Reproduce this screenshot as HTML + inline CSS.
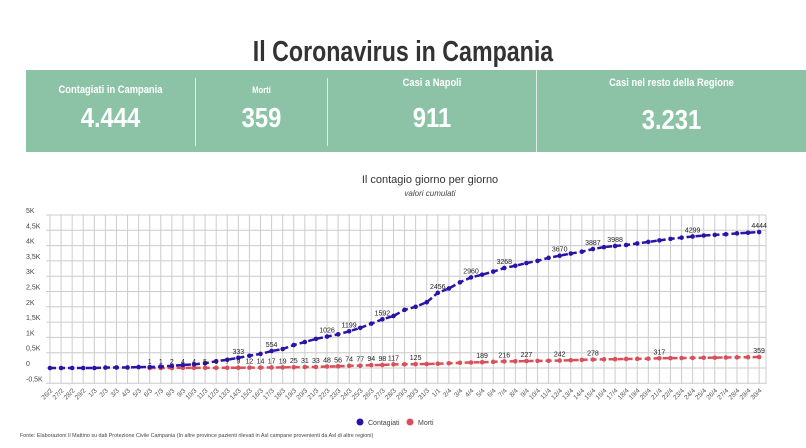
<!DOCTYPE html><html><head><meta charset="utf-8"><style>
body{margin:0;width:806px;height:448px;background:#fff;font-family:"Liberation Sans",sans-serif;overflow:hidden;position:relative}
.t{position:absolute;left:0;width:806px;text-align:center;top:36px;font-size:29px;font-weight:bold;color:#333;transform:scaleX(.8)}
.box{position:absolute;left:26px;top:70px;width:780px;height:82px;background:#8cc3a7}
.c{position:absolute;top:0;height:82px;color:#fff;text-align:center}
.c .l{position:absolute;left:0;right:0;font-size:11px;font-weight:bold;transform:scaleX(.85)}
.c .v{position:absolute;left:0;right:0;top:32px;font-size:28px;font-weight:bold;transform:scaleX(.85)}
.d{position:absolute;top:8px;width:1px;height:68px;background:#dfeee6}
</style></head><body>
<div class="t">Il Coronavirus in Campania</div>
<div class="box">
<div class="c" style="left:0;width:169px"><div class="l" style="top:14px">Contagiati in Campania</div><div class="v">4.444</div></div>
<div class="d" style="left:169px"></div>
<div class="c" style="left:170px;width:131px"><div class="l" style="font-size:9px;top:15px">Morti</div><div class="v">359</div></div>
<div class="d" style="left:301px"></div>
<div class="c" style="left:302px;width:208px"><div class="l" style="top:7px">Casi a Napoli</div><div class="v">911</div></div>
<div class="d" style="left:510px;top:0;height:82px"></div>
<div class="c" style="left:511px;width:269px"><div class="l" style="top:7px">Casi nel resto della Regione</div><div class="v" style="top:34px">3.231</div></div>
</div>
<svg id="s" width="806" height="448" style="position:absolute;left:0;top:0" font-family="Liberation Sans, sans-serif"></svg>
<script>
var s=document.getElementById('s'),h='';
h+='<text x="430" y="183" font-size="11" fill="#333" text-anchor="middle">Il contagio giorno per giorno</text>';
h+='<text x="430" y="196" font-size="8" font-style="italic" fill="#444" text-anchor="middle">valori cumulati</text>';
var x0=50,st=11.08,y0=368,k=15.3/500;
function X(i){return x0+i*st}function Y(v){return y0-v*k}
var yl=['-0,5K','0','0,5K','1K','1,5K','2K','2,5K','3K','3,5K','4K','4,5K','5K'];
for(var j=-1;j<=10;j++){var y=Y(j*500);h+='<line x1="46" x2="766" y1="'+y+'" y2="'+y+'" stroke="#ccc" stroke-width="1"/>';
h+='<text x="26" y="'+(y-2)+'" font-size="7" fill="#444">'+yl[j+1]+'</text>';}
var dates=[];for(var d=26;d<=29;d++)dates.push(d+'/2');for(d=1;d<=31;d++)dates.push(d+'/3');for(d=1;d<=30;d++)dates.push(d+'/4');
dates[35]='1/1';
for(var i=0;i<65;i++){var x=X(i);h+='<line x1="'+x+'" x2="'+x+'" y1="215" y2="384" stroke="#ccc"/>';
h+='<text transform="translate('+(x+3)+',391) rotate(-45)" font-size="6.5" fill="#555" text-anchor="end">'+dates[i]+'</text>';}
h+='<line x1="766" x2="766" y1="215" y2="384" stroke="#ccc"/>';
var b=[0,0,0,0,13,17,17,30,31,47,70,100,120,154,220,270,333,400,460,554,620,750,850,950,1026,1100,1199,1310,1450,1592,1700,1900,2000,2150,2456,2600,2800,2960,3050,3150,3268,3340,3430,3500,3600,3670,3740,3800,3887,3950,3988,4020,4070,4120,4170,4220,4260,4299,4330,4350,4370,4400,4420,4444];
b.unshift(0);
var r=[null,null,null,null,null,null,null,null,null,1,1,2,4,4,5,6,7,9,12,14,17,19,25,31,33,48,56,74,77,94,98,117,120,125,130,140,155,170,180,189,202,216,220,227,232,236,242,255,265,278,283,288,295,300,305,317,322,326,330,335,338,343,348,352,359];
function ser(a,col,lab){var p='',c='';for(var i=0;i<a.length;i++){if(a[i]==null)continue;p+=(p?'L':'M')+X(i)+','+Y(a[i]);c+='<circle cx="'+X(i)+'" cy="'+Y(a[i])+'" r="2.3" fill="'+col+'"/>';}
h+='<path d="'+p+'" fill="none" stroke="'+col+'" stroke-width="2.5" stroke-dasharray="6,3"/>'+c;
for(var q in lab){h+='<text x="'+X(+q)+'" y="'+(Y(a[q])-4)+'" font-size="7" fill="#222" text-anchor="middle">'+lab[q]+'</text>';}}
ser(r,'#d9505a',{});
ser(b,'#2c12a8',{17:333,20:554,25:1026,27:1199,30:1592,35:2456,38:2960,41:3268,46:3670,49:3887,51:3988,58:4299,64:4444});
var rl={};for(var i=9;i<=31;i++)rl[i]=r[i];[33,39,41,43,46,49,55,64].forEach(function(i){rl[i]=r[i]});
for(var q in rl){h+='<text x="'+X(+q)+'" y="'+(Y(r[q])-4)+'" font-size="7" fill="#222" text-anchor="middle">'+rl[q]+'</text>';}
h+='<circle cx="360" cy="422" r="3.5" fill="#2c12a8"/><text x="368" y="425" font-size="7" fill="#444">Contagiati</text>';
h+='<circle cx="410" cy="422" r="3.5" fill="#d9505a"/><text x="418" y="425" font-size="7" fill="#444">Morti</text>';
h+='<text x="20" y="437" font-size="5.4" fill="#444">Fonte: Elaborazioni Il Mattino su dati Protezione Civile Campania (In altre province pazienti rilevati in Asl campane provenienti da Asl di altre regioni)</text>';
s.innerHTML=h;
</script>
</body></html>
